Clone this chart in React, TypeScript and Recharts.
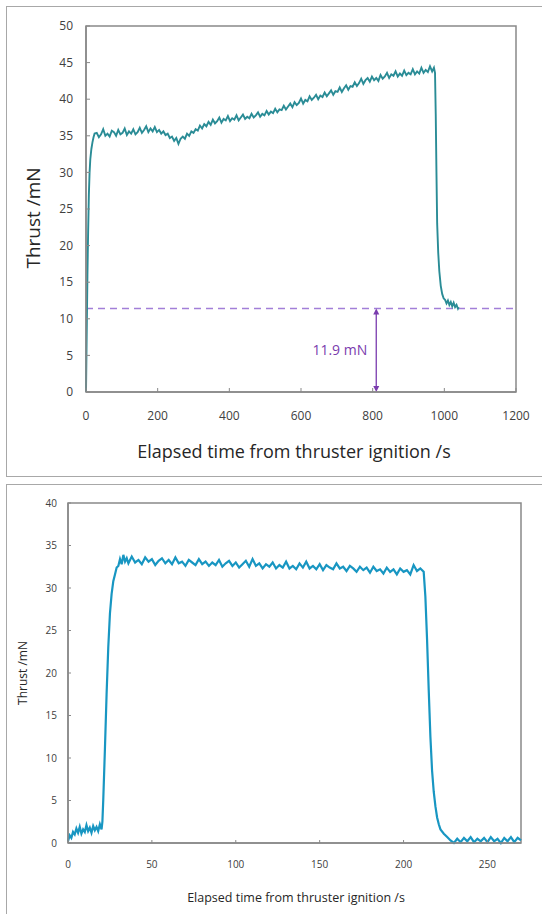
import { LineChart, Line, XAxis, YAxis, ReferenceLine, ReferenceArea } from "recharts";

// [time s, thrust mN]
const topSeries: [number, number][] = [
  [0, 0], [2, 8], [4, 16], [6, 22], [8, 27], [10, 30], [12, 31.8], [15, 33.2], [18, 34.1], [21, 34.8], [24, 35.3],
  [30, 35.4], [36, 34.8], [42, 35.2], [48, 35.9], [54, 35.0], [60, 35.3], [66, 34.9], [72, 35.7], [78, 35.5], [84, 35.0],
  [90, 35.8], [96, 35.2], [102, 35.4], [108, 36.0], [114, 35.1], [120, 35.6], [126, 35.3], [132, 35.9], [138, 35.2], [144, 35.5],
  [150, 36.1], [156, 35.4], [162, 35.8], [168, 36.3], [174, 35.5], [180, 36.0], [186, 35.6], [192, 36.2], [198, 35.5], [204, 35.8],
  [210, 35.3], [216, 35.6], [222, 35.1], [228, 35.3], [234, 34.7], [240, 34.9], [246, 34.3], [252, 34.7], [258, 33.9], [264, 34.6],
  [270, 34.9], [276, 34.6], [282, 35.3], [288, 35.0], [294, 35.6], [300, 35.4], [306, 35.9], [312, 35.7], [318, 36.4], [324, 36.0],
  [330, 36.6], [336, 36.3], [342, 36.9], [348, 36.5], [354, 37.2], [360, 36.7], [366, 37.0], [372, 37.5], [378, 36.8], [384, 37.3],
  [390, 37.1], [396, 37.7], [402, 37.0], [408, 37.4], [414, 37.2], [420, 37.8], [426, 37.1], [432, 37.5], [438, 37.9], [444, 37.3],
  [450, 37.6], [456, 37.4], [462, 38.0], [468, 37.5], [474, 37.8], [480, 38.2], [486, 37.6], [492, 38.0], [498, 37.8], [504, 38.4],
  [510, 37.9], [516, 38.3], [522, 38.1], [528, 38.7], [534, 38.2], [540, 38.6], [546, 38.5], [552, 39.1], [558, 38.6], [564, 39.0],
  [570, 39.4], [576, 38.9], [582, 39.6], [588, 39.2], [594, 39.5], [600, 40.1], [606, 39.4], [612, 39.9], [618, 39.7], [624, 40.4],
  [630, 39.9], [636, 40.2], [642, 40.6], [648, 40.0], [654, 40.5], [660, 40.3], [666, 40.9], [672, 40.4], [678, 40.8], [684, 41.2],
  [690, 40.6], [696, 41.1], [702, 41.0], [708, 41.6], [714, 41.0], [720, 41.5], [726, 41.9], [732, 41.3], [738, 41.8], [744, 41.7],
  [750, 42.3], [756, 41.8], [762, 42.2], [768, 42.8], [774, 42.1], [780, 42.6], [786, 42.9], [792, 42.4], [798, 43.1], [804, 42.6],
  [810, 42.9], [816, 42.5], [822, 43.3], [828, 42.8], [834, 43.1], [840, 43.6], [846, 42.9], [852, 43.4], [858, 43.2], [864, 43.8],
  [870, 43.1], [876, 43.5], [882, 43.2], [888, 43.9], [894, 43.3], [900, 43.6], [906, 43.4], [912, 44.1], [918, 43.4], [924, 43.8],
  [930, 43.5], [936, 44.3], [942, 43.6], [948, 44.0], [954, 43.7], [960, 44.5], [966, 43.8], [971, 44.3], [974, 43.6],
  [976, 38], [978, 30], [980, 23], [983, 19], [986, 16.5], [990, 14.5], [994, 13.4], [998, 12.8], [1002, 12.6], [1006, 12.1],
  [1010, 12.5], [1014, 11.9], [1018, 12.3], [1022, 11.7], [1026, 12.2], [1030, 11.6], [1034, 11.9], [1038, 11.4], [1040, 11.6],
];

// [time s, thrust mN]
const bottomSeries: [number, number][] = [
  [0, 0.2], [1, 0.9], [2, 0.6], [3, 1.3], [4, 1.0], [5, 1.7], [6, 1.2], [7, 1.9], [8, 1.1], [9, 1.6], [10, 1.3],
  [11, 2.1], [12, 1.4], [13, 1.8], [14, 1.2], [15, 2.0], [16, 1.5], [17, 1.9], [18, 1.4], [19, 2.2], [20, 1.6], [20.5, 2.5],
  [21, 5], [22, 11], [23, 17.5], [24, 23], [25, 27], [26, 29.3], [27, 30.8], [28, 31.6], [29, 32.4], [30, 32.6],
  [31, 33.4], [32, 32.8], [33, 33.9], [34, 33.1], [35, 33.5], [36, 32.9], [38, 33.7], [40, 33.0], [42, 33.3], [44, 32.8],
  [46, 33.6], [48, 33.1], [50, 33.4], [52, 32.7], [54, 33.2], [56, 33.5], [58, 32.9], [60, 33.3], [62, 32.8], [64, 33.6],
  [66, 32.9], [68, 33.1], [70, 32.6], [72, 33.3], [74, 33.0], [76, 32.7], [78, 33.4], [80, 32.8], [82, 33.1], [84, 32.6],
  [86, 33.0], [88, 32.7], [90, 33.3], [92, 32.5], [94, 32.9], [96, 33.2], [98, 32.6], [100, 33.0], [102, 32.4], [104, 32.8],
  [106, 33.2], [108, 32.5], [110, 33.4], [112, 32.6], [114, 32.9], [116, 32.3], [118, 32.8], [120, 32.5], [122, 33.0], [124, 32.3],
  [126, 32.7], [128, 32.4], [130, 33.1], [132, 32.3], [134, 32.6], [136, 32.2], [138, 32.9], [140, 32.4], [142, 33.1], [144, 32.3],
  [146, 32.6], [148, 32.2], [150, 32.8], [152, 32.1], [154, 32.7], [156, 32.4], [158, 32.2], [160, 32.9], [162, 32.3], [164, 32.5],
  [166, 32.0], [168, 32.6], [170, 32.3], [172, 31.9], [174, 32.5], [176, 32.1], [178, 32.4], [180, 31.8], [182, 32.5], [184, 32.0],
  [186, 32.2], [188, 31.7], [190, 32.4], [192, 31.9], [194, 32.2], [196, 31.6], [198, 32.3], [200, 31.9], [202, 32.1], [204, 31.6],
  [206, 32.7], [208, 32.0], [210, 32.3], [212, 31.9], [213, 29], [214, 24], [215, 18], [216, 12.5], [217, 8.5], [218, 6],
  [219, 4.3], [220, 3.0], [221, 2.2], [222, 1.6], [224, 1.1], [226, 0.7], [228, 0.3], [230, 0.0], [232, 0.5], [234, 0.1],
  [236, 0.6], [238, 0.2], [240, 0.7], [242, 0.1], [244, 0.5], [246, 0.2], [248, 0.6], [250, 0.1], [252, 0.7], [254, 0.2],
  [256, 0.5], [258, 0.0], [260, 0.6], [262, 0.2], [264, 0.7], [266, 0.1], [268, 0.6], [270, 0.3],
];

const topXTicks = [0, 200, 400, 600, 800, 1000, 1200];
const topYTicks = [0, 5, 10, 15, 20, 25, 30, 35, 40, 45, 50];
const bottomXTicks = [0, 50, 100, 150, 200, 250];
const bottomYTicks = [0, 5, 10, 15, 20, 25, 30, 35, 40];

const residualThrust = 11.4;
const residualLabel = "11.9 mN";
const arrowTime = 810;

const frame = "#898989";
const purple = "#7a3cae";

const DoubleArrow = (p: any) => {
  const { x1, y1, x2, y2 } = p;
  const top = Math.min(y1, y2);
  const bot = Math.max(y1, y2);
  return (
    <g>
      <line x1={x1} y1={top + 2} x2={x2} y2={bot - 2} stroke={purple} strokeWidth={1.3} />
      <polygon points={`${x1},${top} ${x1 - 3},${top + 6} ${x1 + 3},${top + 6}`} fill={purple} />
      <polygon points={`${x1},${bot} ${x1 - 3},${bot - 6} ${x1 + 3},${bot - 6}`} fill={purple} />
    </g>
  );
};

const title: React.CSSProperties = {
  position: "absolute",
  color: "#262626",
  whiteSpace: "nowrap",
  textAlign: "center",
};

export default function App() {
  const topData = topSeries.map(([t, v]) => ({ t, v }));
  const bottomData = bottomSeries.map(([t, v]) => ({ t, v }));
  const tickStyle = { fill: "#404040", fontSize: 12, fontFamily: "Open Sans" };
  const tickStyleSmall = { fill: "#404040", fontSize: 10, fontFamily: "Open Sans" };

  return (
    <div
      style={{
        position: "absolute",
        left: 0,
        top: 0,
        width: 542,
        height: 914,
        overflow: "hidden",
        background: "#fff",
        fontFamily: "Open Sans",
      }}
    >
      <div style={{ position: "absolute", left: 6, top: 6, width: 600, height: 469, border: "1.5px solid #a8a8a8" }} />
      <div style={{ position: "absolute", left: 6, top: 484, width: 600, height: 500, border: "1.5px solid #a8a8a8" }} />

      <div style={{ position: "absolute", left: 0, top: 0 }}>
        <LineChart width={542} height={480} data={topData} margin={{ top: 26, right: 26, bottom: 58, left: 36 }}>
          <XAxis
            type="number"
            dataKey="t"
            domain={[0, 1200]}
            ticks={topXTicks}
            height={30}
            tickSize={-4}
            tickMargin={23}
            tick={tickStyle}
            axisLine={{ stroke: frame, strokeWidth: 1.5 }}
            tickLine={{ stroke: frame }}
          />
          <YAxis
            type="number"
            domain={[0, 50]}
            ticks={topYTicks}
            width={50}
            tickSize={-4}
            tickMargin={17}
            tick={tickStyle}
            axisLine={{ stroke: frame, strokeWidth: 1.5 }}
            tickLine={{ stroke: frame }}
          />
          <ReferenceArea x1={0} x2={1200} y1={0} y2={50} fill="none" stroke={frame} strokeWidth={1.5} />
          <ReferenceLine y={residualThrust} stroke="#a27fd8" strokeWidth={1.5} strokeDasharray="7 5" />
          <Line
            dataKey="v"
            stroke="#2a8c96"
            strokeWidth={1.9}
            dot={false}
            isAnimationActive={false}
          />
          <ReferenceLine
            segment={[
              { x: arrowTime, y: 0 },
              { x: arrowTime, y: residualThrust },
            ]}
            shape={DoubleArrow}
            label={{ value: residualLabel, position: "left", offset: 9, fill: purple, fontSize: 14, fontFamily: "Open Sans" }}
          />
        </LineChart>
      </div>

      <div style={{ ...title, fontSize: 19, left: 33, top: 218, transform: "translate(-50%, -50%) rotate(-90deg)" }}>
        Thrust /mN
      </div>
      <div style={{ ...title, fontSize: 18, left: 294, top: 451, transform: "translate(-50%, -50%)" }}>
        Elapsed time from thruster ignition /s
      </div>

      <div style={{ position: "absolute", left: 0, top: 484 }}>
        <LineChart width={542} height={430} data={bottomData} margin={{ top: 19, right: 21, bottom: 41, left: 28 }}>
          <XAxis
            type="number"
            dataKey="t"
            domain={[0, 270]}
            ticks={bottomXTicks}
            height={30}
            tickSize={-3}
            tickMargin={21}
            tick={tickStyleSmall}
            axisLine={{ stroke: frame, strokeWidth: 1.5 }}
            tickLine={{ stroke: frame }}
          />
          <YAxis
            type="number"
            domain={[0, 40]}
            ticks={bottomYTicks}
            width={40}
            tickSize={-3}
            tickMargin={14}
            tick={tickStyleSmall}
            axisLine={{ stroke: frame, strokeWidth: 1.5 }}
            tickLine={{ stroke: frame }}
          />
          <ReferenceArea x1={0} x2={270} y1={0} y2={40} fill="none" stroke={frame} strokeWidth={1.5} />
          <Line
            dataKey="v"
            stroke="#1896c2"
            strokeWidth={2.2}
            dot={false}
            isAnimationActive={false}
          />
        </LineChart>
      </div>

      <div style={{ ...title, fontSize: 12, left: 22, top: 673, transform: "translate(-50%, -50%) rotate(-90deg)" }}>
        Thrust /mN
      </div>
      <div style={{ ...title, fontSize: 12.5, left: 296, top: 897, transform: "translate(-50%, -50%)" }}>
        Elapsed time from thruster ignition /s
      </div>
    </div>
  );
}
